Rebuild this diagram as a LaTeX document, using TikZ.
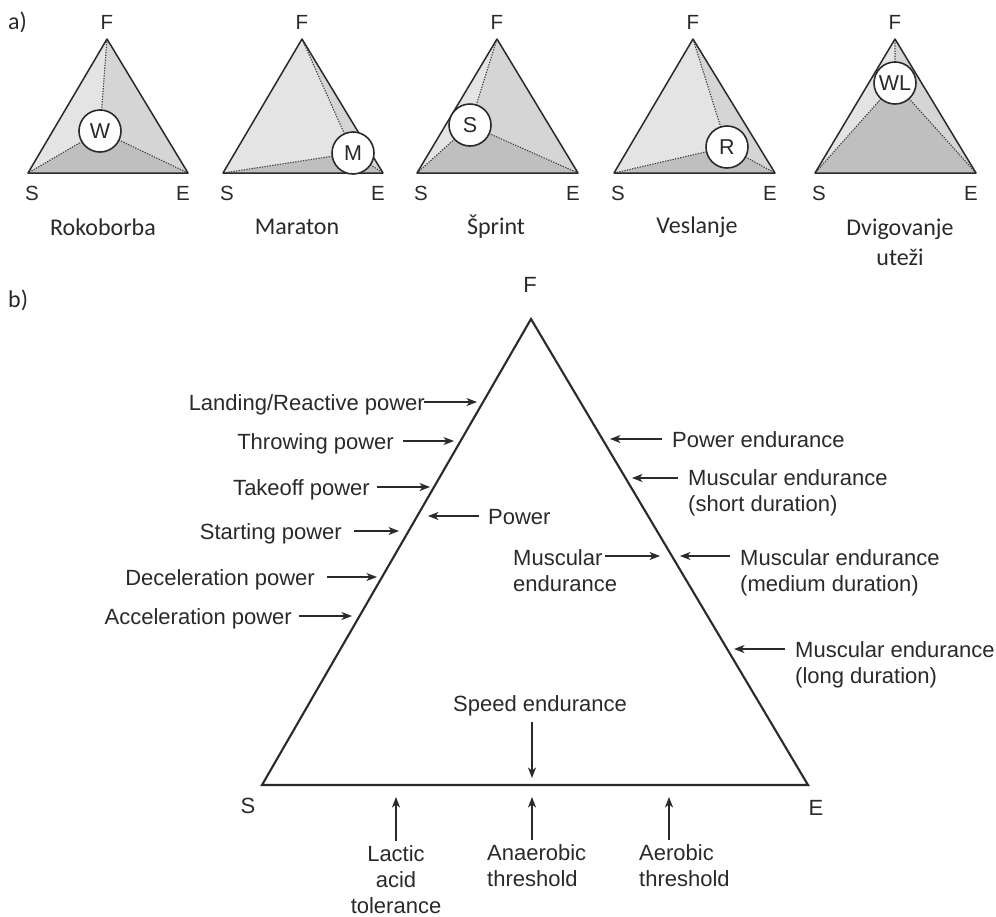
\documentclass[tikz,border=0pt]{standalone}
\usepackage{fontspec}
\setmainfont{Liberation Sans}
\newfontfamily\calibri{Carlito}
\usetikzlibrary{arrows.meta,calc}

\definecolor{ink}{HTML}{2A2A2A}
\definecolor{shadeA}{HTML}{E4E4E4}
\definecolor{shadeB}{HTML}{D5D5D5}
\definecolor{shadeC}{HTML}{BFBFBF}

% small F-S-E triangle with three shaded sectors meeting at a labelled disc
\newcommand\sporttri[7]{%
  \coordinate (#1-S) at (#2,173);
  \coordinate (#1-F) at (#3,39);
  \coordinate (#1-E) at (#4,173);
  \coordinate (#1-C) at (#5,#6);
  \fill[shadeA] (#1-S) -- (#1-F) -- (#1-C) -- cycle;
  \fill[shadeB] (#1-F) -- (#1-E) -- (#1-C) -- cycle;
  \fill[shadeC] (#1-S) -- (#1-E) -- (#1-C) -- cycle;
  \draw[dotline] (#1-C) -- (#1-S) (#1-C) -- (#1-F) (#1-C) -- (#1-E);
  \draw[smalltri] (#1-S) -- (#1-F) -- (#1-E) -- cycle;
  \node[disc] (#1-disc) at (#1-C) {#7};
  \node[corner] (#1-lF) at (#3,22) {F};
  \node[corner] (#1-lS) at ($(#1-S)+(4,20)$) {S};
  \node[corner] (#1-lE) at ($(#1-E)+(-5,20)$) {E};
}

\begin{document}
\begin{tikzpicture}[x=1pt,y=-1pt,
  lbl/.style={font=\fontsize{22}{26}\selectfont, text=ink, inner sep=0pt},
  sportname/.style={font=\calibri\fontsize{24}{30}\selectfont, text=ink, inner sep=0pt, align=center},
  corner/.style={font=\fontsize{20.5}{24}\selectfont, text=ink, inner sep=0pt},
  disc/.style={circle, draw=ink, line width=1.6pt, fill=white, minimum size=42pt,
    inner sep=0pt, font=\fontsize{21.5}{24}\selectfont, text=ink},
  dotline/.style={draw=ink!90, line width=1.1pt, dash pattern=on 1.3pt off 1.3pt},
  smalltri/.style={draw=ink, line width=1.5pt, line join=round},
  bigtri/.style={draw=ink, line width=2.1pt, line join=miter},
  arr/.style={draw=ink, line width=1.5pt, -{Stealth[length=10.5pt,width=8pt,inset=3pt]}},
]
\fill[white] (0,0) rectangle (996,916);
\useasboundingbox (0,0) rectangle (996,916);

% ---------- part a) ----------
\node[sportname, anchor=west] (parta) at (8,22) {a)};

\sporttri{wr}{28}{107}{188}{100}{131}{W}
\sporttri{ma}{223}{302}{383}{353}{153}{M}
\sporttri{sp}{417}{497}{578}{470}{125}{S}
\sporttri{ro}{614}{693}{775}{727}{147}{R}
\sporttri{wl}{815}{895}{976}{895}{83}{WL}

\node[sportname] (n-wr) at (103,227) {Rokoborba};
\node[sportname] (n-ma) at (297,227) {Maraton};
\node[sportname] (n-sp) at (496,227) {Šprint};
\node[sportname] (n-ro) at (697,227) {Veslanje};
\node[sportname] (n-wl) at (900,242) {Dvigovanje\\uteži};

% ---------- part b) ----------
\node[sportname, anchor=west] (partb) at (8,300) {b)};

\coordinate (BS) at (262,785);
\coordinate (BF) at (531,319);
\coordinate (BE) at (808,785);
\draw[bigtri] (BS) -- (BF) -- (BE) -- cycle;

\node[lbl] (lF) at (530,285) {F};
\node[lbl] (lS) at (248,806) {S};
\node[lbl] (lE) at (816,808) {E};

% labels pointing at the S--F side
\node[lbl, anchor=base east] (lrp) at (425,410) {Landing/Reactive power};
\node[lbl, anchor=base east] (thr) at (394,449) {Throwing power};
\node[lbl, anchor=base east] (tak) at (370,495) {Takeoff power};
\node[lbl, anchor=base east] (sta) at (342,539) {Starting power};
\node[lbl, anchor=base east] (dec) at (315,585) {Deceleration power};
\node[lbl, anchor=base east] (acc) at (292,624) {Acceleration power};

\coordinate (lrp-tip) at (477,402);
\coordinate (thr-tip) at (454,441);
\coordinate (tak-tip) at (430,487);
\coordinate (sta-tip) at (399,531);
\coordinate (dec-tip) at (377,577);
\coordinate (acc-tip) at (352,616);

\draw[arr] ($(lrp.east |- lrp-tip)+(-1,0)$) -- (lrp-tip);
\draw[arr] ($(thr.east |- thr-tip)+(9,0)$) -- (thr-tip);
\draw[arr] ($(tak.east |- tak-tip)+(7,0)$) -- (tak-tip);
\draw[arr] ($(sta.east |- sta-tip)+(12,0)$) -- (sta-tip);
\draw[arr] ($(dec.east |- dec-tip)+(12,0)$) -- (dec-tip);
\draw[arr] ($(acc.east |- acc-tip)+(7,0)$) -- (acc-tip);

% labels inside the triangle (multi-line nodes sit on their last baseline)
\node[lbl, anchor=base west] (pow) at (488,524) {Power};
\coordinate (pow-tip) at (428,516);
\draw[arr] ($(pow.west |- pow-tip)+(-9,0)$) -- (pow-tip);

\node[lbl, anchor=base west, align=left] (mei) at (513,591) {Muscular\\endurance};
\coordinate (mei-from) at (605,556);
\coordinate (mei-tip) at (660,556);
\draw[arr] (mei-from) -- (mei-tip);

% labels pointing at the F--E side
\node[lbl, anchor=base west] (pe) at (672,447) {Power endurance};
\node[lbl, anchor=base west, align=left] (mes) at (688,511) {Muscular endurance\\(short duration)};
\node[lbl, anchor=base west, align=left] (mem) at (740,591) {Muscular endurance\\(medium duration)};
\node[lbl, anchor=base west, align=left] (mel) at (795,683) {Muscular endurance\\(long duration)};

\coordinate (pe-tip) at (610,439);
\coordinate (mes-tip) at (632,478);
\coordinate (mem-tip) at (680,556);
\coordinate (mel-tip) at (734,649);

\draw[arr] ($(pe.west |- pe-tip)+(-10,0)$) -- (pe-tip);
\draw[arr] ($(mes.west |- mes-tip)+(-10,0)$) -- (mes-tip);
\draw[arr] ($(mem.west |- mem-tip)+(-10,0)$) -- (mem-tip);
\draw[arr] ($(mel.west |- mel-tip)+(-10,0)$) -- (mel-tip);

% speed endurance, pointing down at the S--E side
\node[lbl] (se) at (540,706) {Speed endurance};
\coordinate (se-tip) at (532,778);
\draw[arr] ($(se-tip |- se.south)+(0,6)$) -- (se-tip);

% labels below the S--E side
\node[lbl, anchor=base, align=center] (lat) at (396,913) {Lactic\\acid\\tolerance};
\node[lbl, anchor=base west, align=left] (ant) at (487,886) {Anaerobic\\threshold};
\node[lbl, anchor=base west, align=left] (aet) at (639,886) {Aerobic\\threshold};

\coordinate (lat-tip) at (396,797);
\coordinate (ant-tip) at (532,797);
\coordinate (aet-tip) at (669,797);

\draw[arr] ($(lat-tip |- lat.north)+(0,-4)$) -- (lat-tip);
\draw[arr] ($(ant-tip |- ant.north)+(0,-4)$) -- (ant-tip);
\draw[arr] ($(aet-tip |- aet.north)+(0,-4)$) -- (aet-tip);
\end{tikzpicture}
\end{document}
